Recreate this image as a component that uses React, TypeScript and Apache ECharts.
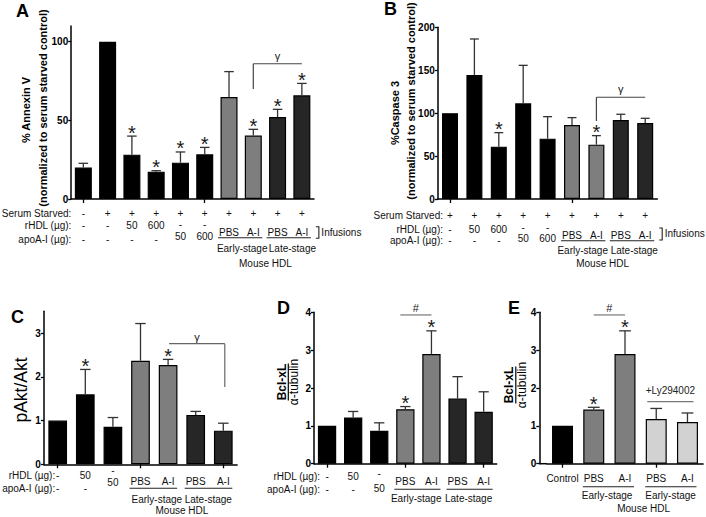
import React, { useEffect, useRef } from 'react';
import * as echarts from 'echarts';

const FONT = '"Liberation Sans", Arial, Helvetica, sans-serif';

// ---------- Panel A: % Annexin V ----------
const aCategories = ['Control', 'Serum starved', 'rHDL 50', 'rHDL 600', 'apoA-I 50', 'apoA-I 600', 'Early PBS', 'Early A-I', 'Late PBS', 'Late A-I'];
const aValues = [20, 100, 28.2, 17.4, 23.1, 28.4, 64.9, 40.3, 52.1, 65.9];
const aErrTop = [22.7, 100, 40, 18, 29.9, 32.8, 81, 44.3, 57, 73.5];
const aSig = [0, 0, 1, 1, 1, 1, 0, 1, 1, 1];
const aShade = ['k', 'k', 'k', 'k', 'k', 'k', 'g', 'g', 'd', 'd'];
const aSerum = ['-', '+', '+', '+', '+', '+', '+', '+', '+', '+'];
const aRhdl = ['-', '-', '50', '600', '-', '-', 'PBS', 'A-I', 'PBS', 'A-I'];
const aApoA = ['-', '-', '-', '-', '50', '600', '', '', '', ''];
const aTicks = [0, 50, 100];

// ---------- Panel B: % Caspase 3 ----------
const bCategories = ['Serum starved', 'rHDL 50', 'rHDL 600', 'apoA-I 50', 'apoA-I 600', 'Early PBS', 'Early A-I', 'Late PBS', 'Late A-I'];
const bValues = [100, 144.5, 61, 111.5, 70.3, 86.2, 63.3, 92, 88.6];
const bErrTop = [100, 186.4, 77.3, 155.7, 95.9, 94.8, 73.8, 98.7, 94];
const bSig = [0, 0, 1, 0, 0, 0, 1, 0, 0];
const bShade = ['k', 'k', 'k', 'k', 'k', 'g', 'g', 'd', 'd'];
const bSerum = ['+', '+', '+', '+', '+', '+', '+', '+', '+'];
const bRhdl = ['-', '50', '600', '-', '-', 'PBS', 'A-I', 'PBS', 'A-I'];
const bApoA = ['-', '-', '-', '50', '600', '', '', '', ''];
const bTicks = [0, 50, 100, 150, 200];

// ---------- Panel C: pAkt/Akt ----------
const cCategories = ['Control', 'rHDL 50', 'apoA-I 50', 'Early PBS', 'Early A-I', 'Late PBS', 'Late A-I'];
const cValues = [1.0, 1.6, 0.86, 2.37, 2.27, 1.13, 0.77];
const cErrTop = [1.0, 2.17, 1.07, 3.22, 2.4, 1.21, 0.94];
const cSig = [0, 1, 0, 0, 1, 0, 0];
const cShade = ['k', 'k', 'k', 'g', 'g', 'd', 'd'];
const cRhdl = ['-', '50', '-', 'PBS', 'A-I', 'PBS', 'A-I'];
const cApoA = ['-', '-', '50', '', '', '', ''];
const cTicks = [0, 1, 2, 3];

// ---------- Panel D: Bcl-xL / alpha-tubulin ----------
const dCategories = ['Control', 'rHDL 50', 'apoA-I 50', 'Early PBS', 'Early A-I', 'Late PBS', 'Late A-I'];
const dValues = [1.0, 1.22, 0.87, 1.44, 2.9, 1.72, 1.37];
const dErrTop = [1.0, 1.38, 1.08, 1.51, 3.51, 2.3, 1.9];
const dSig = [0, 0, 0, 1, 1, 0, 0];
const dShade = ['k', 'k', 'k', 'g', 'g', 'd', 'd'];
const dRhdl = ['-', '50', '-', 'PBS', 'A-I', 'PBS', 'A-I'];
const dApoA = ['-', '-', '50', '', '', '', ''];
const dTicks = [0, 1, 2, 3, 4];

// ---------- Panel E: Bcl-xL / alpha-tubulin with Ly294002 ----------
const eCategories = ['Control', 'Early PBS', 'Early A-I', 'Ly Early PBS', 'Ly Early A-I'];
const eLabels = ['Control', 'PBS', 'A-I', 'PBS', 'A-I'];
const eValues = [1.0, 1.43, 2.9, 1.18, 1.1];
const eErrTop = [1.0, 1.49, 3.51, 1.46, 1.34];
const eSig = [0, 1, 1, 0, 0];
const eShade = ['k', 'g', 'g', 'l', 'l'];
const eTicks = [0, 1, 2, 3, 4];

const SHADES: Record<string, string> = { k: '#000000', g: '#7e7e7e', d: '#262626', l: '#d2d2d2' };
const ERR = '#333333';
const TXT = '#111111';

interface Bracket { from: number; to: number; y: number; dxL: number; dxR: number; drop?: 'left' | 'right'; dropTo?: number; label: string; labelDy: number; color: string; fontSize: number; }
interface Group { from: number; to: number; label: string; dx: number; }
interface Panel {
  cats: string[]; values: number[]; errTop: number[]; sig: number[]; shade: string[];
  rows: string[][]; rowNames: string[]; pairStart: number;
  ticks: number[]; yMax: number;
  left: number; top: number; width: number; height: number; yOffset: number; barWidth: number;
  rowDy: number[]; pbsDy: number; shiftDy: [number, number]; nameGap: number;
  groups: Group[]; ulDy: number; groupDy: number; superLabel?: string; superDy?: number; superDx?: number;
  infusions?: { dy0: number; dy1: number; textDy: number };
  brackets: Bracket[];
}

const panels: Panel[] = [
  {
    cats: aCategories, values: aValues, errTop: aErrTop, sig: aSig, shade: aShade,
    rows: [aSerum, aRhdl, aApoA], rowNames: ['Serum Starved:', 'rHDL (µg):', 'apoA-I (µg):'], pairStart: 1,
    ticks: aTicks, yMax: 110,
    left: 71.2, top: 26, width: 242.8, height: 173, yOffset: 0, barWidth: 17,
    rowDy: [14, 26.7, 40], pbsDy: 33, shiftDy: [25.6, 37.2], nameGap: 12,
    groups: [{ from: 6, to: 7, label: 'Early-stage', dx: 1 }, { from: 8, to: 9, label: 'Late-stage', dx: 2.7 }],
    ulDy: 38.7, groupDy: 49.5, superLabel: 'Mouse HDL', superDy: 64, superDx: 0,
    infusions: { dy0: 27.7, dy1: 39.3, textDy: 33 },
    brackets: [{ from: 7, to: 9, y: 86, dxL: 0, dxR: 0, drop: 'left', dropTo: 70, label: 'γ', labelDy: 8, color: '#444', fontSize: 11 }],
  },
  {
    cats: bCategories, values: bValues, errTop: bErrTop, sig: bSig, shade: bShade,
    rows: [bSerum, bRhdl, bApoA], rowNames: ['Serum Starved:', 'rHDL (µg):', 'apoA-I (µg):'], pairStart: 1,
    ticks: bTicks, yMax: 200,
    left: 437.8, top: 27.3, width: 219.6, height: 171.7, yOffset: 0, barWidth: 16,
    rowDy: [16.5, 30.3, 41.7], pbsDy: 36, shiftDy: [28.1, 39.7], nameGap: 7,
    groups: [{ from: 5, to: 6, label: 'Early-stage', dx: -1.5 }, { from: 7, to: 8, label: 'Late-stage', dx: 1.3 }],
    ulDy: 41.7, groupDy: 51, superLabel: 'Mouse HDL', superDy: 64, superDx: -6,
    infusions: { dy0: 29, dy1: 41, textDy: 34 },
    brackets: [{ from: 6, to: 8, y: 118.5, dxL: 0, dxR: 0, drop: 'left', dropTo: 91, label: 'γ', labelDy: 8, color: '#444', fontSize: 11 }],
  },
  {
    cats: cCategories, values: cValues, errTop: cErrTop, sig: cSig, shade: cShade,
    rows: [cRhdl, cApoA], rowNames: ['rHDL (µg):', 'apoA-I (µg):'], pairStart: 0,
    ticks: cTicks, yMax: 3.5,
    left: 43.9, top: 311.3, width: 193.2, height: 153, yOffset: 0, barWidth: 18.7,
    rowDy: [10.7, 24], pbsDy: 17.4, shiftDy: [6.5, 18.2], nameGap: 2.5,
    groups: [{ from: 3, to: 4, label: 'Early-stage', dx: 2.5 }, { from: 5, to: 6, label: 'Late-stage', dx: -1.2 }],
    ulDy: 24, groupDy: 35, superLabel: 'Mouse HDL', superDy: 45.7, superDx: 0,
    brackets: [{ from: 4, to: 6, y: 2.76, dxL: 1, dxR: 1.5, drop: 'right', dropTo: 1.77, label: 'γ', labelDy: 7, color: '#666', fontSize: 11 }],
  },
  {
    cats: dCategories, values: dValues, errTop: dErrTop, sig: dSig, shade: dShade,
    rows: [dRhdl, dApoA], rowNames: ['rHDL (µg):', 'apoA-I (µg):'], pairStart: 0,
    ticks: dTicks, yMax: 4,
    left: 314, top: 312.3, width: 182.7, height: 151.4, yOffset: 0, barWidth: 18.3,
    rowDy: [12.3, 25.6], pbsDy: 18, shiftDy: [9.6, 25], nameGap: 7,
    groups: [{ from: 3, to: 4, label: 'Early-stage', dx: -2.2 }, { from: 5, to: 6, label: 'Late-stage', dx: -2 }],
    ulDy: 25.6, groupDy: 34.6,
    brackets: [{ from: 3, to: 4, y: 3.93, dxL: -5, dxR: 0, label: '#', labelDy: 6.5, color: '#777', fontSize: 11 }],
  },
  {
    cats: eCategories, values: eValues, errTop: eErrTop, sig: eSig, shade: eShade,
    rows: [eLabels], rowNames: [], pairStart: -1,
    ticks: eTicks, yMax: 4,
    left: 546.9, top: 312.3, width: 156.2, height: 151.4, yOffset: 7.6, barWidth: 21,
    rowDy: [14.6], pbsDy: 14.6, shiftDy: [0, 0], nameGap: 0,
    groups: [{ from: 1, to: 2, label: 'Early-stage', dx: -2.3 }, { from: 3, to: 4, label: 'Early-stage', dx: -1.3 }],
    ulDy: 23, groupDy: 31.6, superLabel: 'Mouse HDL', superDy: 44.6, superDx: 3,
    brackets: [
      { from: 1, to: 2, y: 3.93, dxL: 0, dxR: 0, label: '#', labelDy: 6.5, color: '#777', fontSize: 11 },
      { from: 3, to: 4, y: 1.64, dxL: -9, dxR: 6, label: '+Ly294002', labelDy: 11, color: '#777', fontSize: 10 },
    ],
  },
];

const txt = (text: string, x: number, y: number, size = 10, align = 'center', weight = 'normal', fill = TXT) => ({
  type: 'text', x, y, silent: true,
  style: { text, fontSize: size, fontFamily: FONT, fontWeight: weight, fill, align, verticalAlign: 'middle' },
});
const seg = (x1: number, y1: number, x2: number, y2: number, stroke = '#000', lineWidth = 1.2) => ({
  type: 'line', silent: true, shape: { x1, y1, x2, y2 }, style: { stroke, lineWidth },
});

function buildOption() {
  const grid: any[] = [];
  const xAxis: any[] = [];
  const yAxis: any[] = [];
  const series: any[] = [];
  panels.forEach((p, gi) => {
    grid.push({ left: p.left, top: p.top, width: p.width, height: p.height, containLabel: false });
    xAxis.push({
      type: 'category', gridIndex: gi, data: p.cats,
      axisLabel: { show: false },
      axisTick: { show: true, alignWithLabel: true, length: 4, lineStyle: { color: '#000', width: 1.3 } },
      axisLine: { show: true, lineStyle: { color: '#000', width: 1.5 } },
      splitLine: { show: false },
    });
    yAxis.push({
      type: 'value', gridIndex: gi, min: 0, max: p.yMax, offset: p.yOffset,
      axisLine: { show: true, lineStyle: { color: '#000', width: 1.5 } },
      axisTick: { show: true, length: 3, customValues: p.ticks, lineStyle: { color: '#000', width: 1.3 } },
      axisLabel: { customValues: p.ticks, fontSize: 10, fontWeight: 'bold', fontFamily: FONT, color: '#000', margin: 3 },
      splitLine: { show: false },
    });
    series.push({
      type: 'bar', xAxisIndex: gi, yAxisIndex: gi, barWidth: p.barWidth, silent: true,
      itemStyle: { borderColor: '#000', borderWidth: 1.2 },
      data: p.values.map((v, i) => ({ value: v, itemStyle: { color: SHADES[p.shade[i]] } })),
    });
    // error bars + significance asterisks
    series.push({
      type: 'custom', xAxisIndex: gi, yAxisIndex: gi, silent: true, clip: false, z: 5,
      data: p.values.map((v, i) => [i, v, p.errTop[i], p.sig[i]]),
      renderItem: (params: any, api: any) => {
        const i = api.value(0), v = api.value(1), e = api.value(2), s = api.value(3);
        const p0 = api.coord([i, v]);
        const p1 = api.coord([i, e]);
        const cap = p.barWidth * 0.28;
        const children: any[] = [];
        if (e > v) {
          children.push(seg(p0[0], p0[1], p0[0], p1[1], ERR, 1.3));
          children.push(seg(p0[0] - cap, p1[1], p0[0] + cap, p1[1], ERR, 1.3));
        }
        if (s) children.push(txt('*', p0[0], p1[1] - 3.5, 20, 'center', 'normal', '#1a1a1a'));
        return { type: 'group', children };
      },
    });
    // category row labels under the axis
    series.push({
      type: 'custom', xAxisIndex: gi, yAxisIndex: gi, silent: true, clip: false,
      data: p.values.map((_, i) => [i, 0]),
      renderItem: (params: any, api: any) => {
        const i = params.dataIndex;
        const pt = api.coord([i, 0]);
        const x = pt[0], y0 = pt[1];
        const children: any[] = [];
        p.rows.forEach((row, r) => {
          const t = row[i];
          if (!t) return;
          let dy = p.rowDy[r];
          if (p.pairStart >= 0 && (r === p.pairStart || r === p.pairStart + 1)) {
            const rh = p.rows[p.pairStart][i];
            const ap = p.rows[p.pairStart + 1][i];
            if (rh === 'PBS' || rh === 'A-I') dy = p.pbsDy;
            else if (rh === '-' && ap !== '-') dy = r === p.pairStart ? p.shiftDy[0] : p.shiftDy[1];
          }
          children.push(txt(t, x, y0 + dy));
        });
        return { type: 'group', children };
      },
    });
    // decorations: row names, group underlines, brackets
    series.push({
      type: 'custom', xAxisIndex: gi, yAxisIndex: gi, silent: true, clip: false,
      data: [[0, 0]],
      renderItem: (params: any, api: any) => {
        const cx = (i: number) => api.coord([i, 0])[0];
        const y0 = api.coord([0, 0])[1];
        const children: any[] = [];
        p.rowNames.forEach((name, r) => {
          children.push(txt(name, cx(0) - p.nameGap, y0 + p.rowDy[r], 10, 'right'));
        });
        p.groups.forEach((g) => {
          const xl = cx(g.from) - 11, xr = cx(g.to) + 9;
          children.push(seg(xl, y0 + p.ulDy, xr, y0 + p.ulDy, '#222', 1.1));
          children.push(txt(g.label, (cx(g.from) + cx(g.to)) / 2 + g.dx, y0 + p.groupDy));
        });
        if (p.superLabel && p.superDy !== undefined) {
          const g0 = p.groups[0], g1 = p.groups[p.groups.length - 1];
          const mid = ((cx(g0.from) + cx(g0.to)) / 2 + (cx(g1.from) + cx(g1.to)) / 2) / 2;
          children.push(txt(p.superLabel, mid + (p.superDx || 0), y0 + p.superDy));
        }
        if (p.infusions) {
          const xl = cx(p.cats.length - 1);
          const a = xl + 14, b = xl + 17;
          children.push({
            type: 'polyline', silent: true,
            shape: { points: [[a, y0 + p.infusions.dy0], [b, y0 + p.infusions.dy0], [b, y0 + p.infusions.dy1], [a, y0 + p.infusions.dy1]] },
            style: { stroke: '#222', lineWidth: 1.1, fill: null },
          });
          children.push(txt('Infusions', xl + 19.5, y0 + p.infusions.textDy, 10, 'left'));
        }
        p.brackets.forEach((bk) => {
          const yy = api.coord([0, bk.y])[1];
          const xa = cx(bk.from) + bk.dxL, xb = cx(bk.to) + bk.dxR;
          children.push(seg(xa, yy, xb, yy, bk.color, 1.2));
          if (bk.drop && bk.dropTo !== undefined) {
            const yd = api.coord([0, bk.dropTo])[1];
            const xd = bk.drop === 'left' ? xa : xb;
            children.push(seg(xd, yy, xd, yd, bk.color, 1.2));
          }
          children.push(txt(bk.label, (xa + xb) / 2, yy - bk.labelDy, bk.fontSize, 'center', 'normal', '#222'));
        });
        if (p.yOffset > 0) {
          children.push(seg(p.left - p.yOffset, y0, p.left, y0, '#000', 1.5));
        }
        return { type: 'group', children };
      },
    });
  });

  const rot = Math.PI / 2;
  const graphic: any[] = [
    txt('A', 16, 11, 18, 'left', 'bold', '#000'),
    txt('B', 384, 9, 18, 'left', 'bold', '#000'),
    txt('C', 11, 316.5, 18, 'left', 'bold', '#000'),
    txt('D', 277, 307.5, 18, 'left', 'bold', '#000'),
    txt('E', 508, 307.5, 18, 'left', 'bold', '#000'),
    { ...txt('% Annexin V', 26, 110, 11, 'center', 'bold', '#000'), rotation: rot },
    { ...txt('(normalized to serum starved control)', 43, 108, 11, 'center', 'bold', '#000'), rotation: rot },
    { ...txt('%Caspase 3', 395, 113, 11, 'center', 'bold', '#000'), rotation: rot },
    { ...txt('(normalized to serum starved control)', 411.3, 101, 11, 'center', 'bold', '#000'), rotation: rot },
    { ...txt('pAkt/Akt', 21, 390, 17.5, 'center', 'normal', '#000'), rotation: rot },
  ];
  [[287.5, 382], [515, 385]].forEach(([gx, gy]) => {
    graphic.push({
      type: 'group', x: gx, y: gy, rotation: rot, silent: true,
      children: [
        txt('Bcl-xL', 0, -6, 12, 'center', 'bold', '#000'),
        seg(-18.5, 0.8, 18.5, 0.8, '#000', 1.2),
        txt('α-tubulin', 0, 6.5, 12, 'center', 'normal', '#000'),
      ],
    });
  });

  return {
    animation: false,
    backgroundColor: '#ffffff',
    textStyle: { fontFamily: FONT },
    grid, xAxis, yAxis, series, graphic,
  };
}

export default function App() {
  const ref = useRef<HTMLDivElement>(null);
  useEffect(() => {
    document.body.style.margin = '0';
    if (!ref.current) return;
    const chart = echarts.init(ref.current, undefined, { renderer: 'svg' });
    chart.setOption(buildOption() as any);
    return () => chart.dispose();
  }, []);
  return <div ref={ref} style={{ width: 706, height: 517 }} />;
}
